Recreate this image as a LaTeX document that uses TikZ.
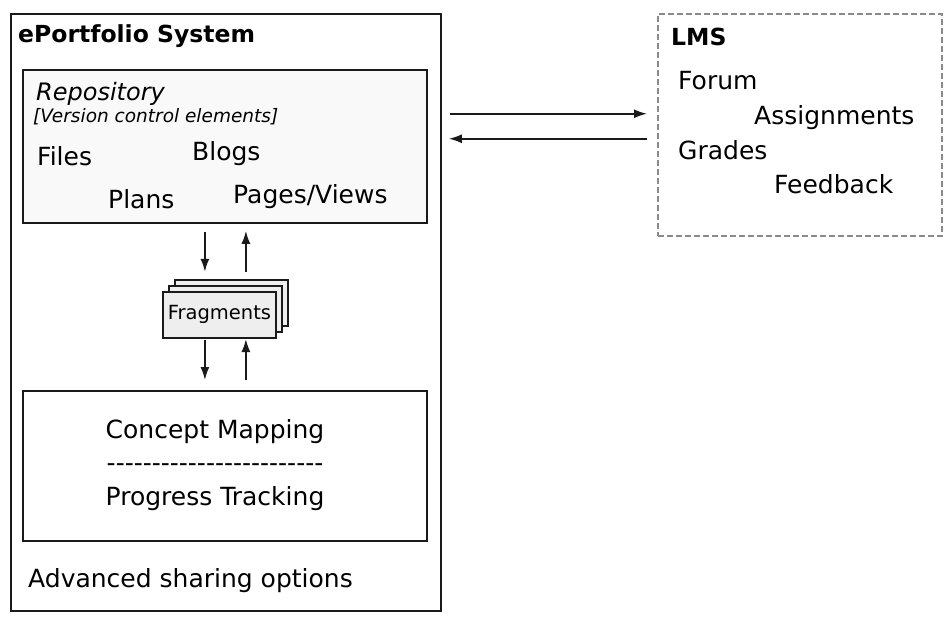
\documentclass[tikz,border=0pt]{standalone}
\usepackage{fontspec}
\setmainfont{DejaVu Sans}
\usetikzlibrary{arrows.meta,calc}
\definecolor{repofill}{HTML}{F9F9F9}
\definecolor{fragfill}{HTML}{EEEEEE}
\definecolor{lmsgray}{HTML}{8A8A8A}
\definecolor{ink}{HTML}{1A1A1A}
\begin{document}
\begin{tikzpicture}[x=1pt,y=-1pt,
  box/.style={draw=ink, line width=1.8pt, anchor=north west, inner sep=0pt},
  fragbox/.style={draw=ink, line width=1.8pt, fill=fragfill, anchor=north west, inner sep=0pt, minimum width=113pt, minimum height=46pt},
  lmsbox/.style={draw=lmsgray, line width=1.5pt, dash pattern=on 6pt off 3pt, anchor=north west, inner sep=0pt},
  txt/.style={anchor=base west, inner sep=0pt, font=\fontsize{25}{29}\selectfont},
  ctxt/.style={anchor=base, inner sep=0pt, font=\fontsize{25}{29}\selectfont},
  arr/.style={draw=ink, line width=1.8pt, -{Latex[length=13pt,width=9pt]}}]
\useasboundingbox (0,0) rectangle (948,622);
% main system box
\node[box, minimum width=430pt, minimum height=597pt] (sys) at (10,13) {};
\node[txt, font=\bfseries\fontsize{23.5}{27}\selectfont] (title) at (18,42) {ePortfolio System};
% repository
\node[box, fill=repofill, minimum width=404pt, minimum height=153pt] (repo) at (22,69) {};
\node[txt, font=\itshape\fontsize{24}{28}\selectfont] (reptitle) at (36,100) {Repository};
\node[txt, font=\itshape\fontsize{18.5}{22}\selectfont] (vce) at (33,122) {[Version control elements]};
\node[txt] (files) at (37,165) {Files};
\node[txt] (blogs) at (192,160) {Blogs};
\node[txt] (plans) at (108,208) {Plans};
\node[txt] (pages) at (233,203) {Pages/Views};
% fragments
\node[fragbox] (frag3) at (174,279) {};
\node[fragbox] (frag2) at (168,285) {};
\node[fragbox, font=\fontsize{19.5}{22}\selectfont] (frag1) at (162,291) {Fragments};
% concept box
\node[box, minimum width=404pt, minimum height=150pt] (concept) at (22,390) {};
\node[ctxt] (cm) at (215,438) {Concept Mapping};
\node[ctxt] (dashes) at (215,471) {-{}-{}-{}-{}-{}-{}-{}-{}-{}-{}-{}-{}-{}-{}-{}-{}-{}-{}-{}-{}-{}-{}-{}-};
\node[ctxt] (pt) at (215,505) {Progress Tracking};
\node[txt] (adv) at (28,587) {Advanced sharing options};
% arrows repo <-> fragments <-> concept
\draw[arr] ([xshift=-20pt,yshift=-8pt]repo.south) -- +(0,40);
\draw[arr] ([xshift=21pt,yshift=-48pt]repo.south) -- +(0,-41);
\draw[arr] ([xshift=-20pt,yshift=50pt]concept.north) -- +(0,40);
\draw[arr] ([xshift=21pt,yshift=10pt]concept.north) -- +(0,-41);
% LMS
\node[lmsbox, minimum width=284pt, minimum height=222pt] (lms) at (657,13) {};
\node[txt, font=\bfseries\fontsize{23.5}{27}\selectfont] (lmstitle) at (671,45) {LMS};
\node[txt] (forum) at (678,89) {Forum};
\node[txt] (assign) at (754,124) {Assignments};
\node[txt] (grades) at (678,159) {Grades};
\node[txt] (feedback) at (774,193) {Feedback};
\coordinate (r1) at ([xshift=-10pt,yshift=11pt]lms.west);
\coordinate (r2) at ([xshift=-10pt,yshift=-14pt]lms.west);
\draw[arr] ($(sys.east |- r1)+(8,0)$) -- (r1);
\draw[arr] (r2) -- ($(sys.east |- r2)+(7,0)$);
\end{tikzpicture}
\end{document}
